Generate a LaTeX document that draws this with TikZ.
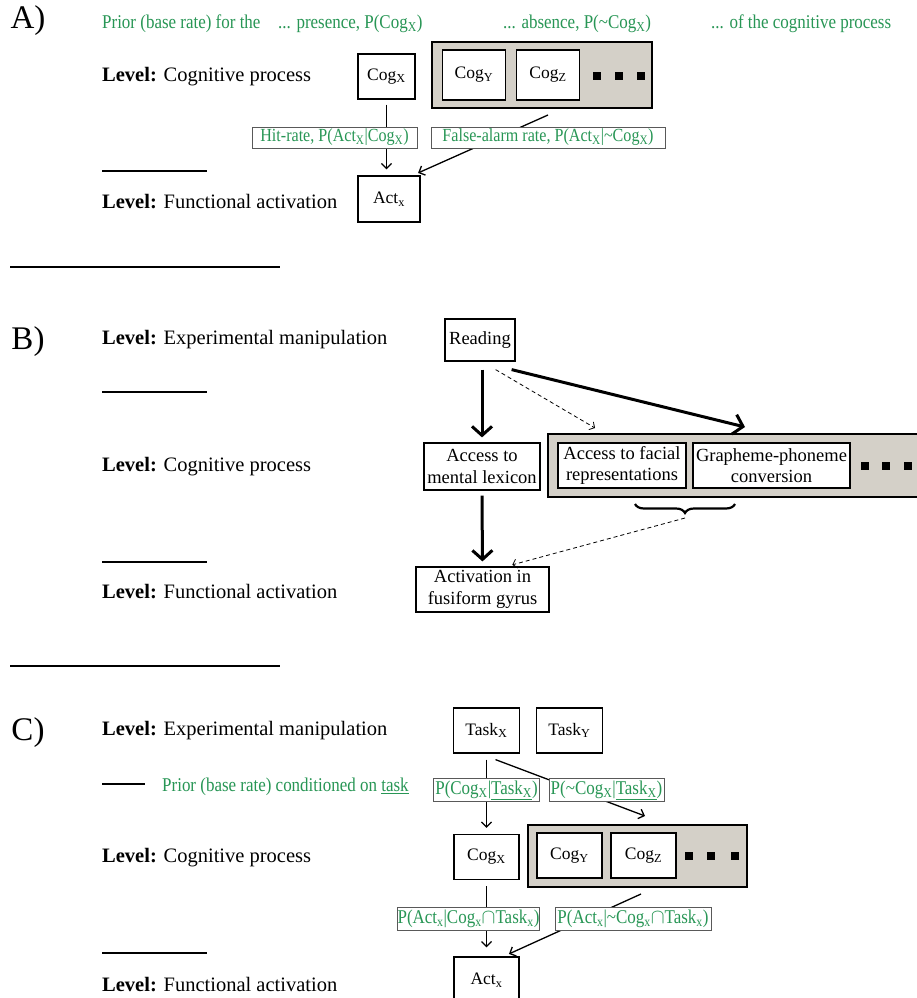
\documentclass[tikz,border=0pt]{standalone}
\usepackage{fontspec}
\setmainfont{Liberation Serif}
\newfontfamily\narrowserif[FakeStretch=0.87]{Liberation Serif}
\usetikzlibrary{arrows.meta,decorations.pathreplacing}
\definecolor{probgreen}{RGB}{40,150,85}
\definecolor{poolgray}{RGB}{212,208,200}
\tikzset{
  paneltag/.style={font=\fontsize{33}{36}\selectfont, inner sep=0},
  lvl/.style={anchor=west, font=\fontsize{20.5}{24}\selectfont, inner sep=0},
  prior/.style={anchor=west, text=probgreen, font=\narrowserif\fontsize{19.5}{22}\selectfont, inner sep=0},
  cbox/.style={draw, line width=1.2pt, fill=white, inner sep=0, align=center, font=\fontsize{17.5}{20}\selectfont},
  wbox/.style={cbox, font=\fontsize{18.5}{21.5}\selectfont},
  pool/.style={draw, line width=1.6pt, fill=poolgray, inner sep=0},
  plabel/.style={draw=black!65, line width=0.8pt, fill=white, text=probgreen, inner sep=0, font=\narrowserif\fontsize{18.5}{21}\selectfont},
  sq/.style={fill=black, minimum size=8pt, inner sep=0},
  link/.style={line width=1.3pt, shorten >=6pt, -{Straight Barb[length=5pt,width=10pt]}},
  strong/.style={line width=3pt, shorten >=5pt, -{Straight Barb[length=9pt,width=20pt]}},
  hint/.style={dashed, dash pattern=on 4pt off 3pt, line width=0.8pt, -{Straight Barb[length=4pt,width=9pt]}},
  sepline/.style={line width=1.8pt},
}
\begin{document}
\begin{tikzpicture}[x=1pt,y=-1pt]
\fill[white] (0,0) rectangle (917,998);
\useasboundingbox (0,0) rectangle (917,998);

% ---------------- Panel A ----------------
\node[paneltag] (tagA) at (28,21) {A)};
\node[prior] (priorA1) at (102,24) {Prior (base rate) for the};
\node[prior] (priorA2) at (278,24) {... presence, P(Cog\textsubscript{X})};
\node[prior] (priorA3) at (503,24) {... absence, P(\textasciitilde Cog\textsubscript{X})};
\node[prior] (priorA4) at (711,24) {... of the cognitive process};

\node[lvl] (lvlA1) at (102,77) {\textbf{Level:} Cognitive process};
\node[lvl] (lvlA2) at (102,202) {\textbf{Level:} Functional activation};
\draw[sepline] (102,171) -- (207,171);
\draw[sepline] (10,267) -- (280,267);

\node[cbox, minimum width=57pt, minimum height=45pt] (cogxA) at (386.5,76.5) {Cog\textsubscript{X}};
\node[pool, minimum width=220pt, minimum height=66pt] (poolA) at (542,75) {};
\node[cbox, minimum width=63pt, minimum height=50pt] (cogyA) at (474,75) {Cog\textsubscript{Y}};
\node[cbox, minimum width=63pt, minimum height=50pt] (cogzA) at (548,75) {Cog\textsubscript{Z}};
\node[sq] (dA1) at (597,76) {};
\node[sq] (dA2) at (619,76) {};
\node[sq] (dA3) at (641,76) {};
\node[cbox, minimum width=62pt, minimum height=46pt] (actA) at (389,199) {Act\textsubscript{x}};

\coordinate (faA) at (548,115);
\draw[link] ([yshift=-5pt]cogxA.south) -- (cogxA.south |- actA.north);
\draw[link] (faA) -- ([xshift=-8pt]actA.north east);
\node[plabel, minimum width=165pt, minimum height=21pt] (hitA) at (334.5,137.5) {Hit-rate, P(Act\textsubscript{X}|Cog\textsubscript{X})};
\node[plabel, minimum width=234pt, minimum height=21pt] (falseA) at (548,137.5) {False-alarm rate, P(Act\textsubscript{X}|\textasciitilde Cog\textsubscript{X})};

% ---------------- Panel B ----------------
\node[paneltag] (tagB) at (28,342) {B)};
\node[lvl] (lvlB1) at (102,340) {\textbf{Level:} Experimental manipulation};
\node[lvl] (lvlB2) at (102,467) {\textbf{Level:} Cognitive process};
\node[lvl] (lvlB3) at (102,592) {\textbf{Level:} Functional activation};
\draw[sepline] (102,392) -- (207,392);
\draw[sepline] (102,562) -- (207,562);
\draw[sepline] (10,666) -- (280,666);

\node[wbox, minimum width=70pt, minimum height=42pt] (readB) at (480,340) {Reading};
\node[wbox, minimum width=116pt, minimum height=47pt] (lexB) at (482,466.5) {Access to\\mental lexicon};
\node[pool, minimum width=382pt, minimum height=63pt] (poolB) at (739,465.5) {};
\node[wbox, minimum width=128pt, minimum height=45pt] (faceB) at (622,465.5) {Access to facial\\representations};
\node[wbox, minimum width=157pt, minimum height=45pt] (graphB) at (771.5,465.5) {Grapheme-phoneme\\conversion};
\node[sq] (dB1) at (865,466) {};
\node[sq] (dB2) at (886,466) {};
\node[sq] (dB3) at (908,466) {};
\node[wbox, minimum width=133pt, minimum height=45pt] (actB) at (482.5,589.5) {Activation in\\fusiform gyrus};

\coordinate (faceTip) at (595,428);
\coordinate (graphTip) at (745,427);
\draw[strong] ([yshift=-8pt]readB.south -| lexB.north) -- (lexB.north);
\draw[strong] ([yshift=-5pt]lexB.south) -- (actB.north);
\draw[strong, shorten >=0pt] ([xshift=-4pt,yshift=-8pt]readB.south east) -- (graphTip);
\draw[hint] ([xshift=-20pt,yshift=-8pt]readB.south east) -- (faceTip);
\draw[decorate, decoration={brace, mirror, amplitude=9pt}, line width=2.2pt] (635,504) -- (735,504);
\coordinate (braceTip) at (685,518);
\draw[hint, shorten >=6pt] (braceTip) -- ([xshift=24pt]actB.north);

% ---------------- Panel C ----------------
\node[paneltag] (tagC) at (28,733) {C)};
\node[lvl] (lvlC1) at (102,731) {\textbf{Level:} Experimental manipulation};
\node[lvl] (lvlC2) at (102,858) {\textbf{Level:} Cognitive process};
\node[lvl] (lvlC3) at (102,985) {\textbf{Level:} Functional activation};
\draw[sepline] (102,784) -- (145,784);
\draw[sepline] (102,953) -- (207,953);
\node[prior] (priorC) at (162,787) {Prior (base rate) conditioned on \underline{task}};

\node[cbox, minimum width=66pt, minimum height=45pt] (taskxC) at (486.5,730.5) {Task\textsubscript{X}};
\node[cbox, minimum width=66pt, minimum height=45pt] (taskyC) at (569.5,730.5) {Task\textsubscript{Y}};
\node[cbox, minimum width=65pt, minimum height=45pt] (cogxC) at (486.5,857) {Cog\textsubscript{X}};
\node[pool, minimum width=219pt, minimum height=62pt] (poolC) at (637.5,856) {};
\node[cbox, minimum width=65pt, minimum height=45pt] (cogyC) at (569.5,855.5) {Cog\textsubscript{Y}};
\node[cbox, minimum width=65pt, minimum height=45pt] (cogzC) at (643.5,855.5) {Cog\textsubscript{Z}};
\node[sq] (dC1) at (689,856) {};
\node[sq] (dC2) at (711,856) {};
\node[sq] (dC3) at (735,856) {};
\node[cbox, minimum width=65pt, minimum height=46pt] (actC) at (486.5,980) {Act\textsubscript{x}};

\coordinate (absTip) at (645,816);
\coordinate (poolOut) at (641,894);
\draw[link] ([yshift=-6pt]taskxC.south) -- (cogxC.north);
\draw[link, shorten >=0pt] ([xshift=9pt,yshift=-6pt]taskxC.south) -- (absTip);
\draw[link, shorten >=9pt] ([yshift=-6pt]cogxC.south) -- (actC.north);
\draw[link] (poolOut) -- ([xshift=17pt]actC.north);
\node[plabel, font=\narrowserif\fontsize{19.5}{22}\selectfont, minimum width=106pt, minimum height=23pt] (condX) at (486.5,790) {P(Cog\textsubscript{X}|\underline{Task\textsubscript{X}})};
\node[plabel, font=\narrowserif\fontsize{19.5}{22}\selectfont, minimum width=115pt, minimum height=23pt] (condNX) at (606.5,790) {P(\textasciitilde Cog\textsubscript{X}|\underline{Task\textsubscript{X}})};
\node[plabel, font=\narrowserif\fontsize{19.5}{22}\selectfont, minimum width=141pt, minimum height=23pt] (hitC) at (468.5,918.5) {P(Act\textsubscript{x}|Cog\textsubscript{x}$\cap$Task\textsubscript{x})};
\node[plabel, font=\narrowserif\fontsize{19.5}{22}\selectfont, minimum width=156pt, minimum height=23pt] (falseC) at (633,918.5) {P(Act\textsubscript{x}|\textasciitilde Cog\textsubscript{x}$\cap$Task\textsubscript{x})};
\end{tikzpicture}
\end{document}
